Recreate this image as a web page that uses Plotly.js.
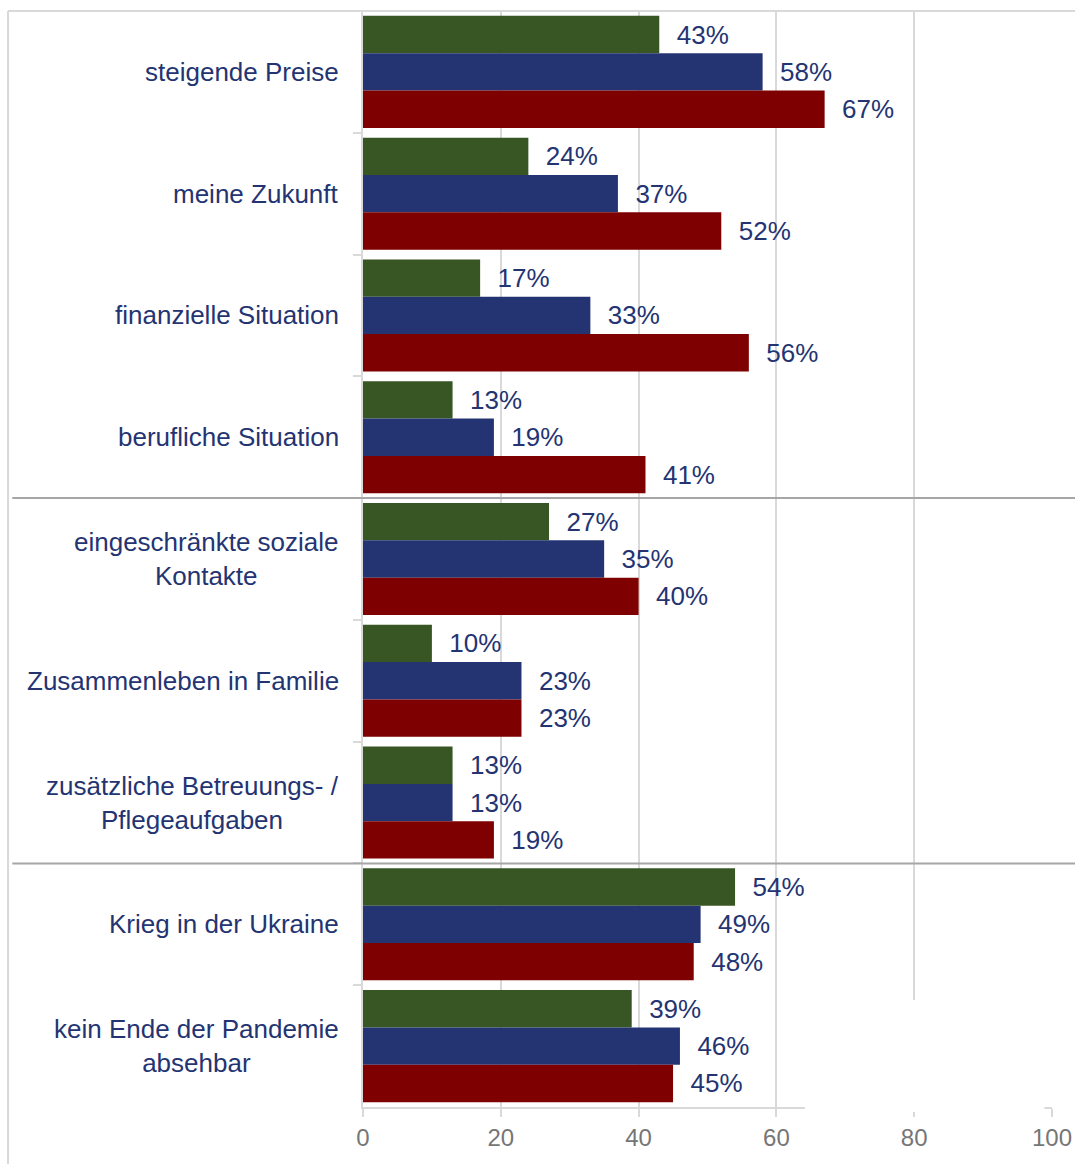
<!DOCTYPE html>
<html>
<head>
<meta charset="utf-8">
<script src="https://cdn.plot.ly/plotly-3.0.1.min.js"></script>
<style>
  html, body { margin: 0; padding: 0; background: #ffffff; }
  #chart { width: 1075px; height: 1164px; }
</style>
</head>
<body>
<div id="chart"></div>
<script>
// ---- data ----
var categories = [
  "steigende Preise",
  "meine Zukunft",
  "finanzielle Situation",
  "berufliche Situation",
  "eingeschränkte soziale Kontakte",
  "Zusammenleben in Familie",
  "zusätzliche Betreuungs- / Pflegeaufgaben",
  "Krieg in der Ukraine",
  "kein Ende der Pandemie absehbar"
];
var categoryLabels = [
  "steigende Preise",
  "meine Zukunft",
  "finanzielle Situation",
  "berufliche Situation",
  "eingeschränkte soziale<br>Kontakte",
  "Zusammenleben in Familie",
  "zusätzliche Betreuungs- /<br>Pflegeaufgaben",
  "Krieg in der Ukraine",
  "kein Ende der Pandemie<br>absehbar"
];
var seriesGreen = [43, 24, 17, 13, 27, 10, 13, 54, 39];
var seriesBlue  = [58, 37, 33, 19, 35, 23, 13, 49, 46];
var seriesRed   = [67, 52, 56, 41, 40, 23, 19, 48, 45];
var seriesNames = ["Gruppe 1", "Gruppe 2", "Gruppe 3"];
var xTickVals = [0, 20, 40, 60, 80, 100];

// ---- styles ----
var FONT = "Liberation Sans, Arial, Helvetica, sans-serif";
var NAVY = "#243472";
var GRID = "#d9d9d9";
var colors = ["#375623", "#243472", "#7f0000"];

function makeTrace(vals, name, color) {
  return {
    type: "bar",
    orientation: "h",
    name: name,
    y: categories,
    x: vals,
    marker: { color: color, line: { width: 0 } },
    text: vals.map(function (v) { return "\u00a0\u00a0" + v + "%"; }),
    textposition: "outside",
    constraintext: "none",
    cliponaxis: false,
    textfont: { family: FONT, size: 26, color: NAVY },
    hoverinfo: "x+y"
  };
}

var data = [
  makeTrace(seriesGreen, seriesNames[0], colors[0]),
  makeTrace(seriesBlue, seriesNames[1], colors[1]),
  makeTrace(seriesRed, seriesNames[2], colors[2])
];

var annotations = categories.map(function (c, i) {
  return {
    xref: "paper", yref: "y",
    x: 0, y: c,
    xshift: -22,
    xanchor: "right", yanchor: "middle",
    align: "center",
    showarrow: false,
    text: categoryLabels[i],
    font: { family: FONT, size: 26, color: NAVY }
  };
});

var shapes = [
  // outer frame: top and left
  { type: "line", xref: "paper", yref: "paper", x0: -0.5152, x1: 1.04, y0: 1, y1: 1,
    line: { color: GRID, width: 2 }, layer: "below" },
  { type: "line", xref: "paper", yref: "paper", x0: -0.5152, x1: -0.5152, y0: 1, y1: -0.06,
    line: { color: GRID, width: 2 }, layer: "below" },
  // section separators
  { type: "line", xref: "paper", yref: "paper", x0: -0.509, x1: 1.04, y0: 5/9, y1: 5/9,
    line: { color: "#a6a6a6", width: 2 }, layer: "above" },
  { type: "line", xref: "paper", yref: "paper", x0: -0.509, x1: 1.04, y0: 2/9, y1: 2/9,
    line: { color: "#a6a6a6", width: 2 }, layer: "above" },
  // blank box in lower right
  { type: "rect", xref: "paper", yref: "paper", x0: 0.6415, x1: 0.989, y0: -0.0046, y1: 0.0976,
    fillcolor: "#ffffff", line: { width: 0 }, layer: "above" }
];

var layout = {
  width: 1075,
  height: 1164,
  margin: { l: 363, r: 23, t: 11, b: 57, pad: 0 },
  paper_bgcolor: "#ffffff",
  plot_bgcolor: "#ffffff",
  showlegend: false,
  barmode: "group",
  bargap: 0.08,
  bargroupgap: 0,
  font: { family: FONT, color: NAVY },
  xaxis: {
    range: [0, 100],
    tickvals: xTickVals,
    ticktext: xTickVals.map(String),
    showgrid: true,
    gridcolor: GRID,
    gridwidth: 2,
    zeroline: false,
    showline: true,
    linecolor: GRID,
    linewidth: 2,
    ticks: "outside",
    ticklen: 8,
    tickwidth: 2,
    tickcolor: GRID,
    tickfont: { family: FONT, size: 24, color: "#767676" },
    fixedrange: true
  },
  yaxis: {
    type: "category",
    autorange: "reversed",
    showgrid: false,
    zeroline: false,
    showline: true,
    linecolor: GRID,
    linewidth: 2,
    ticks: "outside",
    tickson: "boundaries",
    ticklen: 8,
    tickwidth: 2,
    tickcolor: GRID,
    showticklabels: false,
    fixedrange: true
  },
  annotations: annotations,
  shapes: shapes
};

Plotly.newPlot("chart", data, layout, { displayModeBar: false, staticPlot: true });
</script>
</body>
</html>
